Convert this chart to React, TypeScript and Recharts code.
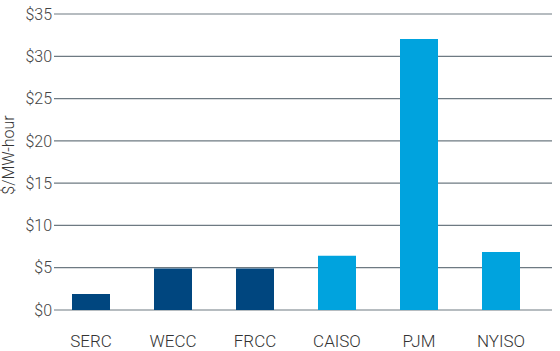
import { Bar, BarChart, CartesianGrid, Cell, XAxis, YAxis } from "recharts";

const regions = ["SERC", "WECC", "FRCC", "CAISO", "PJM", "NYISO"];
const costs = [1.9, 4.9, 4.9, 6.4, 32.05, 6.85];
const barColors = ["#00467f", "#00467f", "#00467f", "#00a3de", "#00a3de", "#00a3de"];
const yTicks = [0, 5, 10, 15, 20, 25, 30, 35];

const data = regions.map((region, i) => ({ region, cost: costs[i] }));

const font = "Roboto, 'Open Sans', sans-serif";

export default function App() {
  return (
    <div style={{ position: "absolute", left: 0, top: 0, background: "#fff" }}>
      <BarChart width={560} height={351} data={data} margin={{ top: 14, right: 8, bottom: 0, left: 0 }}>
        <CartesianGrid vertical={false} stroke="#6e7a82" strokeWidth={1.2} />
        <XAxis
          dataKey="region"
          height={41}
          axisLine={false}
          tickLine={false}
          tickSize={0}
          tickMargin={25}
          padding={{ left: -4, right: 10 }}
          tick={{ fontSize: 17, fill: "#333", fontFamily: font, fontWeight: 300 }}
          interval={0}
        />
        <YAxis
          width={54}
          domain={[0, 35]}
          ticks={yTicks}
          axisLine={false}
          tickLine={false}
          tickSize={0}
          tickMargin={2}
          tickFormatter={(v: number) => `$${v}`}
          tick={{ fontSize: 16, fill: "#444", fontFamily: font, fontWeight: 300 }}
          label={{
            value: "$/MW-hour",
            angle: -90,
            position: "insideLeft",
            dx: 3,
            dy: -7,
            style: { fontSize: 16, fill: "#333", fontFamily: font, fontWeight: 300, textAnchor: "middle" },
          }}
        />
        <Bar dataKey="cost" barSize={38} isAnimationActive={false}>
          {data.map((d, i) => (
            <Cell key={d.region} fill={barColors[i]} />
          ))}
        </Bar>
      </BarChart>
    </div>
  );
}
